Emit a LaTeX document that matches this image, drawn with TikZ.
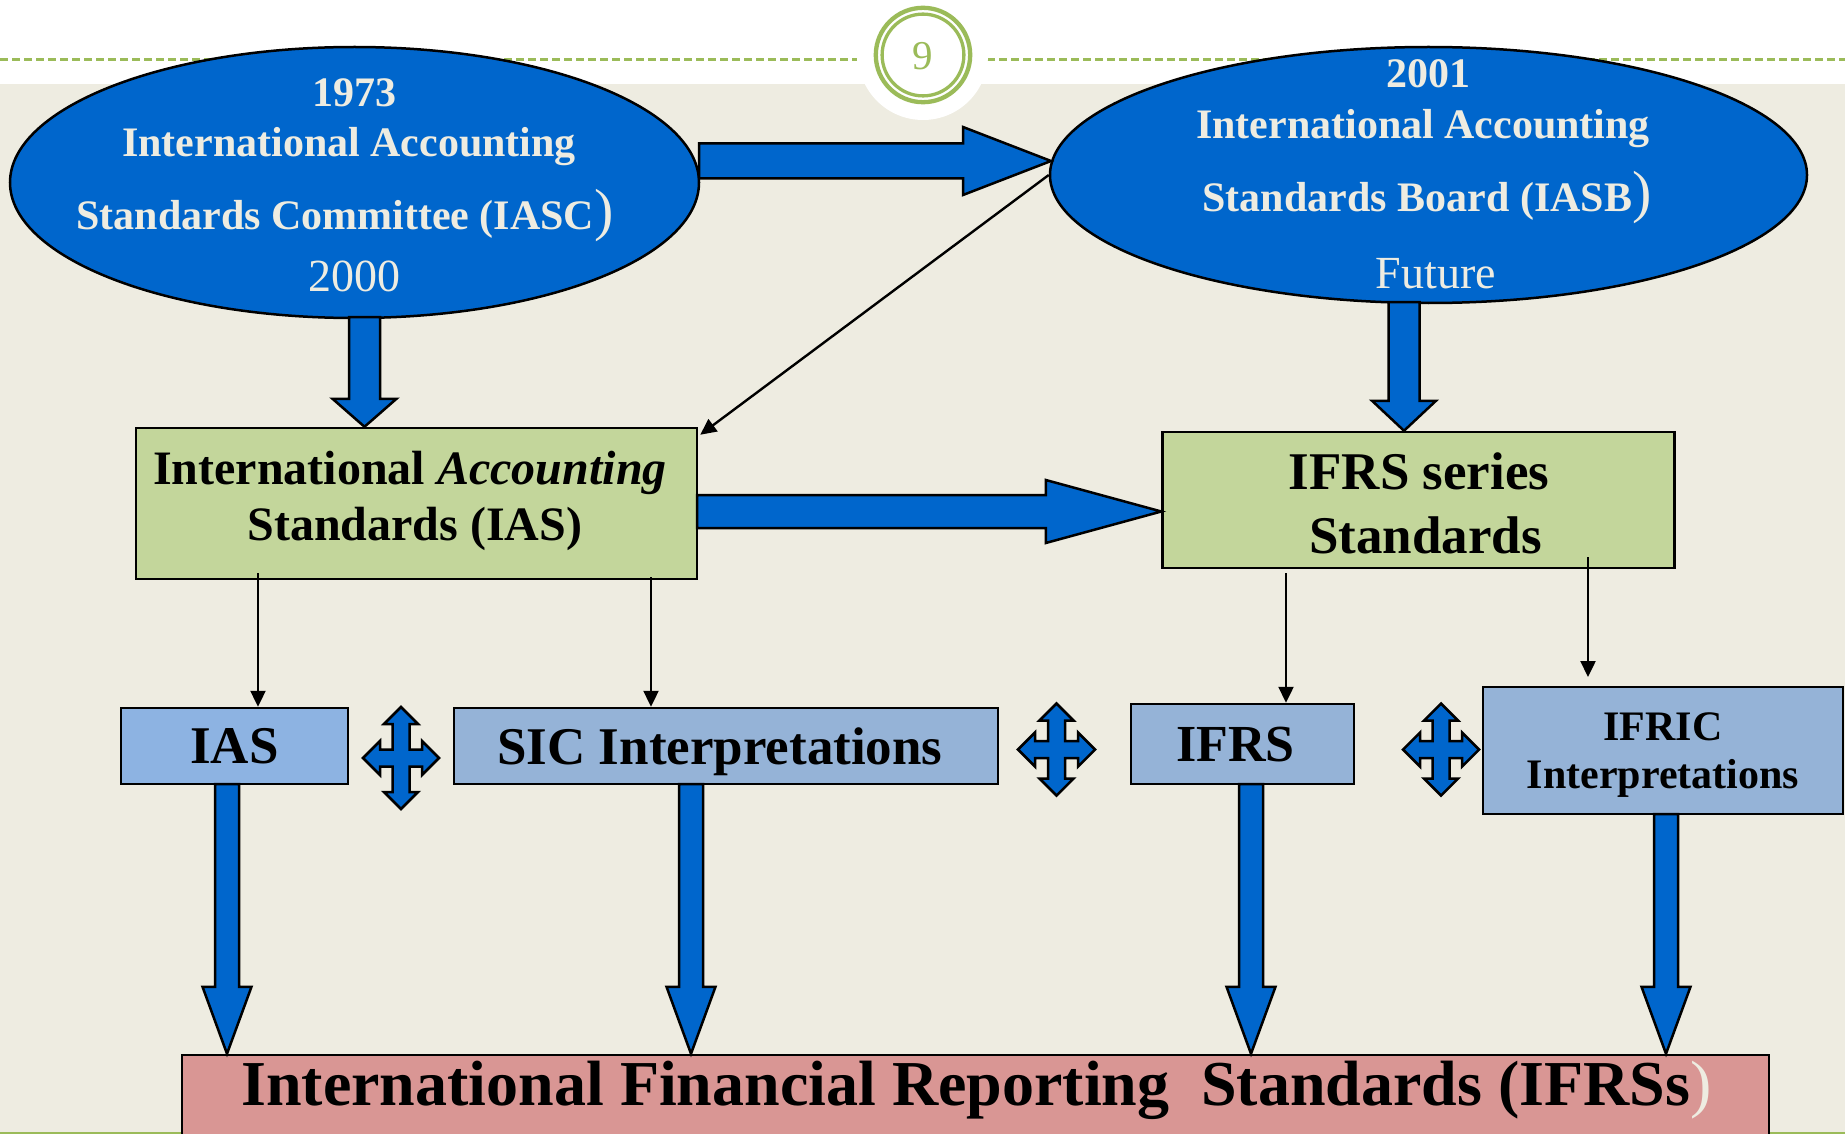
\documentclass[tikz,border=0pt]{standalone}
\usepackage{fontspec}
\setmainfont{Liberation Serif}
\usetikzlibrary{shapes.geometric,arrows.meta,calc}
\definecolor{bgc}{HTML}{EEECE1}
\definecolor{olv}{HTML}{9BBB59}
\definecolor{bblue}{HTML}{0066CC}
\definecolor{gboxc}{HTML}{C3D69B}
\definecolor{lblue}{HTML}{95B3D7}
\definecolor{lbluetwo}{HTML}{8DB3E2}
\definecolor{pinkc}{HTML}{D99694}
\definecolor{cream}{HTML}{EEECE1}
\newcommand\fsz[1]{\fontsize{#1}{#1}\selectfont}
% right-pointing block arrow: start, tip, shaft half, head half, head length
\newcommand\rblock[5]{%
\draw[block] let \p1=(#1),\p2=(#2) in
 (\x1,{\y1+#3}) -- ({\x2-#5},{\y1+#3}) -- ({\x2-#5},{\y1+#4}) -- (\x2,\y1)
 -- ({\x2-#5},{\y1-#4}) -- ({\x2-#5},{\y1-#3}) -- (\x1,{\y1-#3}) -- cycle;}
% down-pointing block arrow: start, tip, shaft half, head half, head length
\newcommand\dblock[5]{%
\draw[block] let \p1=(#1),\p2=(#2) in
 ({\x1-#3},\y1) -- ({\x1-#3},{\y2+#5}) -- ({\x1-#4},{\y2+#5}) -- (\x1,\y2)
 -- ({\x1+#4},{\y2+#5}) -- ({\x1+#3},{\y2+#5}) -- ({\x1+#3},\y1) -- cycle;}
% four-way arrow: cx, cy, half width, half height
\newcommand\quadarrow[4]{%
\draw[block, shift={(#1,#2)}]
 (0,-#4) -- (17,{-#4+17}) -- (8.5,{-#4+17}) -- (8.5,-8.5) -- ({#3-17},-8.5) -- ({#3-17},-17)
 -- (#3,0) -- ({#3-17},17) -- ({#3-17},8.5) -- (8.5,8.5) -- (8.5,{#4-17}) -- (17,{#4-17})
 -- (0,#4) -- (-17,{#4-17}) -- (-8.5,{#4-17}) -- (-8.5,8.5) -- ({-#3+17},8.5) -- ({-#3+17},17)
 -- (-#3,0) -- ({-#3+17},-17) -- ({-#3+17},-8.5) -- (-8.5,-8.5) -- (-8.5,{-#4+17}) -- (-17,{-#4+17}) -- cycle;}
\begin{document}
\begin{tikzpicture}[x=1pt,y=-1pt,
  block/.style={draw=black, line width=2.5pt, fill=bblue},
  ell/.style={ellipse, draw=black, line width=2.5pt, fill=bblue, inner sep=0pt},
  gbox/.style={rectangle, draw=black, line width=2.5pt, fill=gboxc, inner sep=0pt},
  lbbox/.style={rectangle, draw=black, line width=2.5pt, fill=lblue, inner sep=0pt, text depth=0pt},
  thinarr/.style={draw=black, line width=2.4pt, -{Triangle[length=16pt,width=15pt]}},
  etxt/.style={inner sep=0pt, anchor=base, text=cream, font={\bfseries\fsz{42}}},
  btxt/.style={inner sep=0pt, anchor=base, text=black}]
\useasboundingbox (0,0) rectangle (1845,1134);
\clip (0,0) rectangle (1845,1134);
% background
\fill[white] (0,0) rectangle (1845,84);
\fill[bgc] (0,84) rectangle (1845,1134);
\draw[olv, line width=3pt, dash pattern=on 8pt off 4pt] (0,60) -- (857,60);
\draw[olv, line width=3pt, dash pattern=on 8pt off 4pt] (987,60) -- (1845,60);
\draw[olv, line width=2.5pt] (0,1133) -- (1845,1133);
% page number
\fill[white] (923,55) circle (65pt);
\draw[olv, line width=4.3pt] (923,55) circle (47.2pt);
\draw[olv, line width=3.3pt] (923,55) circle (40.9pt);
\node[font=\fsz{41}, text=olv, inner sep=0pt] (pg) at (923,56) {9};
% ellipses
\node[ell, minimum width=689pt, minimum height=271pt] (iasc) at (354.5,182.5) {};
\node[ell, minimum width=757pt, minimum height=256pt] (iasb) at (1428.5,175) {};
\node[etxt] (c1) at (354,107) {1973};
\node[etxt] (c2) at (349,157) {International Accounting};
\node[etxt] (c3) at (345,230) {Standards Committee (IASC{\mdseries\fsz{58})}};
\node[etxt, font=\fsz{46}] (c4) at (354,291) {2000};
\node[etxt] (b1) at (1428,88) {2001};
\node[etxt] (b2) at (1423,139) {International Accounting};
\node[etxt] (b3) at (1427,212) {Standards Board (IASB{\mdseries\fsz{58})}};
\node[etxt, font=\fsz{46}] (b4) at (1436,288) {Future};
% green boxes
\node[gbox, minimum width=561pt, minimum height=151pt] (ias) at (416.5,503.5) {};
\node[gbox, minimum width=512pt, minimum height=136pt] (ifrsb) at (1418.5,500) {};
\node[btxt, font={\bfseries\fsz{48}}] (g1) at (410,484) {International \textit{Accounting}};
\node[btxt, font={\bfseries\fsz{48}}] (g2) at (415,540) {Standards (IAS)};
\node[btxt, font={\bfseries\fsz{53}}] (g3) at (1419,489.5) {IFRS series};
\node[btxt, font={\bfseries\fsz{53}}] (g4) at (1425.5,553) {Standards};
% small boxes
\node[lbbox, fill=lbluetwo, minimum width=227pt, minimum height=76pt, font={\bfseries\fsz{53}}] (sias) at (234.5,746) {IAS};
\node[lbbox, minimum width=544pt, minimum height=76pt, font={\bfseries\fsz{53}}] (sic) at (726,746) {\hspace*{-12pt}SIC Interpretations};
\node[lbbox, minimum width=223pt, minimum height=80pt, font={\bfseries\fsz{52}}] (sifrs) at (1242.5,744) {\hspace*{-14pt}IFRS};
\node[lbbox, minimum width=360pt, minimum height=127pt, align=center, font={\bfseries\fontsize{42}{48}\selectfont}] (ifric) at (1663,750.5) {IFRIC\\Interpretations};
% bottom box
\node[rectangle, draw=black, line width=2.5pt, fill=pinkc, inner sep=0pt, minimum width=1587pt, minimum height=110pt] (ifrs) at (975.5,1110) {};
\node[btxt, font={\bfseries\fsz{64}}] (ifrst) at (976.5,1105) {International Financial Reporting\ \ Standards (IFRSs{\mdseries\color{cream})}};
% thin arrows
\draw[thinarr] (iasb.west) -- ([shift={(2,8)}]ias.north east);
\coordinate (t1s) at (258,573);
\draw[thinarr] (t1s) -- (t1s |- sias.north);
\coordinate (t2s) at (651,577);
\draw[thinarr] (t2s) -- (t2s |- sic.north);
\coordinate (t3s) at (1286,573);
\draw[thinarr] (t3s) -- (t3s |- sifrs.north);
\coordinate (t4s) at (1588,557);
\coordinate (t4e) at (1588,677);
\draw[thinarr] (t4s) -- (t4e);
% block arrows
\coordinate (a1s) at (699,161);
\coordinate (a1e) at (1051,161);
\rblock{a1s}{a1e}{17.5pt}{34pt}{88pt}
\coordinate (a2s) at (364.5,317);
\dblock{a2s}{a2s |- ias.north}{15.5pt}{32pt}{28pt}
\coordinate (a3s) at (1404,302);
\dblock{a3s}{a3s |- ifrsb.north}{15.5pt}{32pt}{30pt}
\coordinate (a4s) at (697,511.5);
\rblock{a4s}{ifrsb.west |- a4s}{16.5pt}{31.5pt}{115.5pt}
\coordinate (d1s) at (227,784);
\dblock{d1s}{d1s |- ifrs.north}{12pt}{24.5pt}{67pt}
\coordinate (d2s) at (691,784);
\dblock{d2s}{d2s |- ifrs.north}{12pt}{24.5pt}{67pt}
\coordinate (d3s) at (1251,784);
\dblock{d3s}{d3s |- ifrs.north}{12pt}{24.5pt}{67pt}
\coordinate (d4s) at (1666,814);
\dblock{d4s}{d4s |- ifrs.north}{12pt}{24.5pt}{67pt}
% four-way arrows
\quadarrow{401}{758}{38}{51}
\quadarrow{1056.5}{749.5}{38.5}{46}
\quadarrow{1441}{749.5}{38}{46}
\end{tikzpicture}
\end{document}
